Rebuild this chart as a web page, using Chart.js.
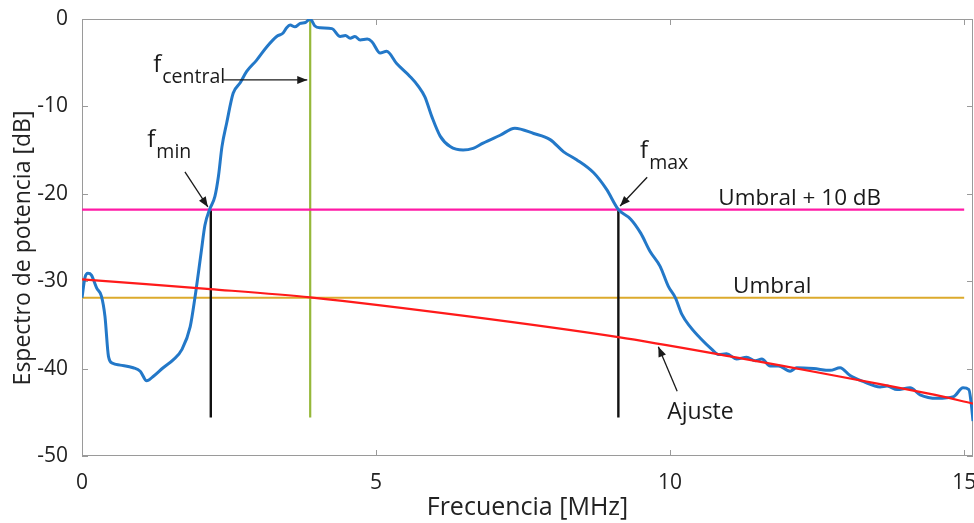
<!DOCTYPE html>
<html>
<head>
<meta charset="utf-8">
<script src="https://cdn.jsdelivr.net/npm/chart.js@4.4.1/dist/chart.umd.min.js"></script>
<style>
  html, body { margin: 0; padding: 0; background: #fff; }
</style>
</head>
<body>
<canvas id="espectro" width="974" height="523"></canvas>
<script>
// espectro de potencia medido
const freqMHz = [0.00, 0.05, 0.10, 0.16, 0.25, 0.33, 0.39, 0.45, 0.52, 0.65, 0.87, 0.99, 1.10, 1.21, 1.38, 1.55, 1.70, 1.84, 1.92, 1.98,
  2.03, 2.09, 2.17, 2.26, 2.32, 2.38, 2.46, 2.57, 2.69, 2.80, 2.97, 3.14, 3.31, 3.42, 3.48, 3.54, 3.62, 3.71, 3.80, 3.88,
  3.96, 4.05, 4.25, 4.39, 4.48, 4.56, 4.64, 4.73, 4.85, 4.93, 5.07, 5.18, 5.35, 5.58, 5.72, 5.83, 5.95, 6.09, 6.26, 6.48,
  6.65, 6.82, 7.11, 7.36, 7.68, 7.96, 8.19, 8.41, 8.70, 8.92, 9.12, 9.33, 9.50, 9.66, 9.83, 9.97, 10.09, 10.20, 10.34, 10.51,
  10.71, 10.82, 10.96, 11.13, 11.30, 11.45, 11.56, 11.70, 11.84, 12.04, 12.15, 12.44, 12.72, 12.89, 13.06, 13.29, 13.57, 13.69, 13.86, 14.08,
  14.25, 14.54, 14.82, 14.98, 15.08, 15.12, 15.15];
const espectroDb = [-31.9, -29.6, -29.1, -29.3, -30.8, -31.7, -34.0, -38.6, -39.4, -39.6, -39.9, -40.3, -41.4, -40.9, -39.9, -39.0, -37.8, -35.2, -31.9, -29.0,
  -26.5, -23.6, -21.8, -20.3, -18.0, -14.6, -11.9, -8.5, -7.3, -6.0, -4.7, -3.2, -2.0, -1.6, -1.0, -0.7, -0.9, -0.5, -0.4, 0.0,
  -0.8, -1.0, -1.1, -2.0, -1.9, -2.2, -2.0, -2.4, -2.3, -2.6, -3.9, -3.7, -5.1, -6.6, -7.7, -8.9, -11.2, -13.4, -14.6, -15.0,
  -14.8, -14.2, -13.3, -12.5, -13.1, -13.8, -15.2, -16.1, -17.6, -19.5, -21.8, -22.9, -24.5, -26.6, -28.3, -30.6, -31.9, -33.8, -35.2, -36.5,
  -37.8, -38.4, -38.3, -38.9, -38.7, -39.1, -38.9, -39.7, -39.7, -40.3, -39.9, -40.0, -40.2, -39.9, -40.8, -41.5, -42.1, -42.0, -42.4, -42.2,
  -43.0, -43.4, -43.2, -42.2, -42.4, -44.0, -46.0];

// curva de ajuste
const ajusteFreq = [0, 2.18, 3.88, 6.54, 9.12, 11.02, 12.72, 14.42, 15.15];
const ajusteDb = [-29.8, -30.9, -31.85, -34.0, -36.4, -38.6, -40.7, -42.9, -44.0];

// umbrales y frecuencias caracteristicas
const umbralDb = -31.9;
const umbral10Db = -21.8;
const fMin = 2.19, fCentral = 3.88, fMax = 9.12;
const pieLineas = -45.6;
const xMax = 15.15;

// marcas de los ejes
const xTicks = [0, 5, 10, 15];
const yTicks = [0, -10, -20, -30, -40, -50];

const FONT = '"Open Sans", "DejaVu Sans", sans-serif';

function puntos(xs, ys) {
  return xs.map((v, i) => ({ x: v, y: ys[i] }));
}
function segmento(x1, y1, x2, y2) {
  return [{ x: x1, y: y1 }, { x: x2, y: y2 }];
}

// caja del eje y marcas hacia dentro
const caja = {
  id: 'caja',
  beforeDatasetsDraw(chart) {
    const { ctx, chartArea: a, scales: { x, y } } = chart;
    ctx.save();
    ctx.strokeStyle = '#9a9a9a';
    ctx.lineWidth = 1;
    ctx.strokeRect(a.left + 0.5, a.top + 0.5, a.right - a.left - 1, a.bottom - a.top - 1);
    ctx.beginPath();
    xTicks.forEach(v => {
      const px = Math.round(x.getPixelForValue(v)) + 0.5;
      ctx.moveTo(px, a.bottom); ctx.lineTo(px, a.bottom - 6);
      ctx.moveTo(px, a.top); ctx.lineTo(px, a.top + 6);
    });
    yTicks.forEach(v => {
      const py = Math.round(y.getPixelForValue(v)) + 0.5;
      ctx.moveTo(a.left, py); ctx.lineTo(a.left + 6, py);
      ctx.moveTo(a.right, py); ctx.lineTo(a.right - 6, py);
    });
    ctx.stroke();
    ctx.restore();
  }
};

// textos y flechas
const anotaciones = {
  id: 'anotaciones',
  afterDatasetsDraw(chart) {
    const { ctx, scales: { x, y } } = chart;
    const X = v => x.getPixelForValue(v);
    const Y = v => y.getPixelForValue(v);
    ctx.save();
    ctx.fillStyle = '#1a1a1a';
    ctx.strokeStyle = '#1a1a1a';
    ctx.textBaseline = 'alphabetic';
    ctx.textAlign = 'left';

    function texto(t, xv, yv, size) {
      ctx.font = size + 'px ' + FONT;
      ctx.fillText(t, X(xv), Y(yv));
    }
    function conSub(main, sub, xv, yv) {
      ctx.font = '24px ' + FONT;
      const w = ctx.measureText(main).width;
      ctx.fillText(main, X(xv), Y(yv));
      ctx.font = '19.5px ' + FONT;
      ctx.fillText(sub, X(xv) + w + 1, Y(yv) + 11);
    }
    function flecha(x1, y1, x2, y2) {
      const ax = X(x1), ay = Y(y1), bx = X(x2), by = Y(y2);
      const ang = Math.atan2(by - ay, bx - ax);
      ctx.lineWidth = 1.3;
      ctx.beginPath();
      ctx.moveTo(ax, ay); ctx.lineTo(bx, by);
      ctx.stroke();
      const L = 10, W = 4;
      ctx.beginPath();
      ctx.moveTo(bx, by);
      ctx.lineTo(bx - L * Math.cos(ang) + W * Math.sin(ang), by - L * Math.sin(ang) - W * Math.cos(ang));
      ctx.lineTo(bx - L * Math.cos(ang) - W * Math.sin(ang), by - L * Math.sin(ang) + W * Math.cos(ang));
      ctx.closePath();
      ctx.fill();
    }

    conSub('f', 'central', 1.21, -6.1);
    flecha(2.40, -6.97, 3.83, -6.97);

    conSub('f', 'min', 1.11, -14.7);
    flecha(1.75, -17.5, 2.14, -21.5);

    conSub('f', 'max', 9.49, -15.9);
    flecha(9.61, -18.1, 9.15, -21.4);

    texto('Umbral + 10 dB', 10.82, -21.3, 22.5);
    texto('Umbral', 11.07, -31.4, 22.5);

    texto('Ajuste', 9.95, -45.8, 23);
    flecha(10.12, -42.6, 9.80, -37.5);

    // titulo del eje vertical
    ctx.font = '23px ' + FONT;
    ctx.fillStyle = '#222';
    ctx.textAlign = 'center';
    ctx.textBaseline = 'middle';
    ctx.translate(23, Y(-26.2));
    ctx.rotate(-Math.PI / 2);
    ctx.fillText('Espectro de potencia [dB]', 0, 0);
    ctx.restore();
  }
};

new Chart(document.getElementById('espectro'), {
  type: 'scatter',
  data: {
    datasets: [
      {
        label: 'Ajuste',
        data: puntos(ajusteFreq, ajusteDb),
        showLine: true, borderColor: '#ff1a1a', borderWidth: 2.2,
        pointRadius: 0, tension: 0.3, order: 1
      },
      {
        label: 'Espectro',
        data: puntos(freqMHz, espectroDb),
        showLine: true, borderColor: '#2378c8', borderWidth: 3,
        pointRadius: 0, cubicInterpolationMode: 'monotone', order: 2
      },
      {
        label: 'Umbral + 10 dB',
        data: segmento(0, umbral10Db, 15, umbral10Db),
        showLine: true, borderColor: '#ff1aa6', borderWidth: 2.2,
        pointRadius: 0, order: 3
      },
      {
        label: 'Umbral',
        data: segmento(0, umbralDb, 15, umbralDb),
        showLine: true, borderColor: '#dcaa2c', borderWidth: 2,
        pointRadius: 0, order: 4
      },
      {
        label: 'f central',
        data: segmento(fCentral, 0, fCentral, pieLineas),
        showLine: true, borderColor: '#96b83a', borderWidth: 2.2,
        pointRadius: 0, order: 3
      },
      {
        label: 'f min',
        data: segmento(fMin, umbral10Db, fMin, pieLineas),
        showLine: true, borderColor: '#111111', borderWidth: 2.4,
        pointRadius: 0, order: 3
      },
      {
        label: 'f max',
        data: segmento(fMax, umbral10Db, fMax, pieLineas),
        showLine: true, borderColor: '#111111', borderWidth: 2.4,
        pointRadius: 0, order: 3
      }
    ]
  },
  options: {
    responsive: false,
    animation: false,
    layout: { padding: { top: 19, right: 1, left: 0, bottom: 0 } },
    plugins: {
      legend: { display: false },
      tooltip: { enabled: false }
    },
    scales: {
      x: {
        type: 'linear', min: 0, max: xMax,
        grid: { display: false },
        border: { display: false },
        afterBuildTicks(s) { s.ticks = xTicks.map(v => ({ value: v })); },
        ticks: {
          padding: 6, color: '#222', maxRotation: 0,
          font: { family: FONT, size: 21 }
        },
        title: {
          display: true, text: 'Frecuencia [MHz]', color: '#222',
          font: { family: FONT, size: 25 }, padding: { top: 0, bottom: 0 }
        },
        afterFit(s) { s.height = 67; s.paddingLeft = 0; s.paddingRight = 0; }
      },
      y: {
        type: 'linear', min: -50, max: 0,
        grid: { display: false },
        border: { display: false },
        afterBuildTicks(s) { s.ticks = yTicks.map(v => ({ value: v })); },
        ticks: {
          padding: 6, color: '#222',
          font: { family: FONT, size: 21 }
        },
        title: { display: false },
        afterFit(s) { s.width = 82; s.paddingTop = 0; s.paddingBottom = 0; }
      }
    }
  },
  plugins: [caja, anotaciones]
});
</script>
</body>
</html>
